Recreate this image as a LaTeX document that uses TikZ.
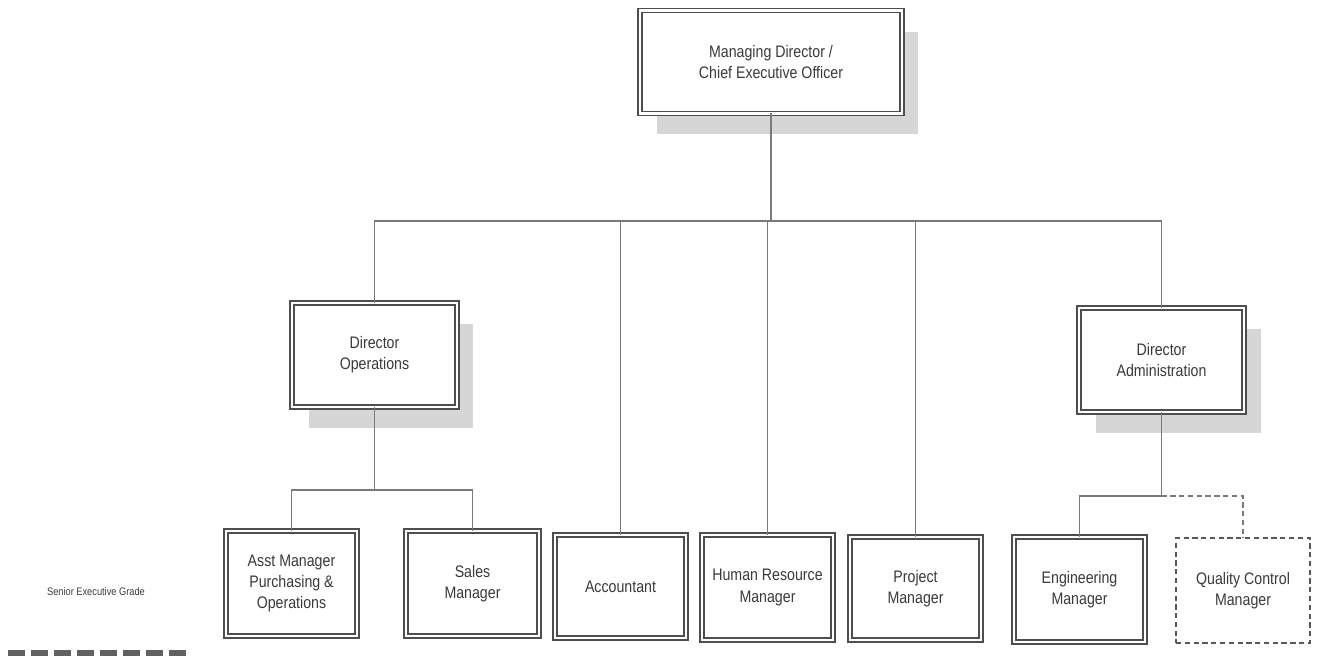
\documentclass[tikz,border=0pt]{standalone}
\usepackage{fontspec}
\setmainfont{Liberation Sans}[FakeStretch=0.85]
\usetikzlibrary{shadows}
\definecolor{ink}{HTML}{3A3A3A}
\definecolor{linec}{HTML}{7A7A7A}
\definecolor{shade}{HTML}{D6D6D6}
\tikzset{
  box/.style={draw=ink!90, double=white, double distance=1.2pt, line width=0.9pt,
    fill=white, inner sep=0pt, outer sep=0pt, align=center, text=ink,
    font=\fontsize{9.5}{12}\selectfont},
  shbox/.style={box, drop shadow={shadow xshift=0.33cm, shadow yshift=-0.42cm, fill=shade, opacity=1}},
  qcbox/.style={draw=ink!85, dash pattern=on 3pt off 2pt, line width=0.7pt, fill=white,
    inner sep=0pt, outer sep=0pt, align=center, text=ink, font=\fontsize{9.5}{12}\selectfont},
  conn/.style={draw=linec, line width=0.6pt},
  dconn/.style={conn, dash pattern=on 3pt off 2pt},
  legend/.style={fill=ink!80, draw=none}
}
\begin{document}
\begin{tikzpicture}[x=0.02cm,y=-0.02cm]
\useasboundingbox (0,0) rectangle (1324,656);
% top
\node[shbox, minimum width=5.24cm, minimum height=2.06cm] (md) at (771,62) {Managing Director /\\Chief Executive Officer};
\node[shbox, minimum width=3.3cm, minimum height=2.08cm] (dops) at (374.5,355) {Director\\Operations};
\node[shbox, minimum width=3.3cm, minimum height=2.08cm] (dadm) at (1161.5,360) {Director\\Administration};
% bottom row
\node[box, minimum width=2.62cm, minimum height=2.1cm] (asst) at (291.5,583.5) {Asst Manager\\Purchasing \&\\Operations};
\node[box, minimum width=2.66cm, minimum height=2.1cm] (sales) at (472.5,583.5) {Sales\\Manager};
\node[box, minimum width=2.62cm, minimum height=2.06cm] (acc) at (620.5,586.5) {Accountant};
\node[box, minimum width=2.62cm, minimum height=2.1cm] (hr) at (767.5,587.5) {Human Resource\\Manager};
\node[box, minimum width=2.62cm, minimum height=2.06cm] (pm) at (915.5,588.5) {Project\\Manager};
\node[box, minimum width=2.62cm, minimum height=2.1cm] (eng) at (1079.5,589.5) {Engineering\\Manager};
\node[qcbox, minimum width=2.68cm, minimum height=2.1cm] (qc) at (1243,590.5) {Quality Control\\Manager};
% connectors
\coordinate (busL) at (374,221);
\coordinate (busR) at (1162,221);
\draw[conn] (busL) -- (busR);
\draw[conn] (md.south) -- (md.south |- busL);
\draw[conn] (dops.north) -- (dops.north |- busL);
\draw[conn] (acc.north) -- (acc.north |- busL);
\draw[conn] (hr.north) -- (hr.north |- busL);
\draw[conn] (pm.north) -- (pm.north |- busL);
\draw[conn] (dadm.north) -- (dadm.north |- busL);
\coordinate (opsbus) at (374.5,490);
\draw[conn] (dops.south) -- (opsbus);
\draw[conn] (asst.north) -- (asst.north |- opsbus) -- (sales.north |- opsbus) -- (sales.north);
\coordinate (admbus) at (1161.5,496);
\draw[conn] (dadm.south) -- (admbus);
\draw[conn] (eng.north) -- (eng.north |- admbus) -- (admbus);
\draw[dconn] (admbus) -- (qc.north |- admbus) -- (qc.north);
% legend
\node[text=ink, font=\fontsize{6.2}{8}\selectfont] (seg) at (96,592) {Senior Executive Grade};
\foreach \i in {0,...,7}{
  \fill[legend] (8+\i*23,650) rectangle (25+\i*23,656);
}
\end{tikzpicture}
\end{document}
